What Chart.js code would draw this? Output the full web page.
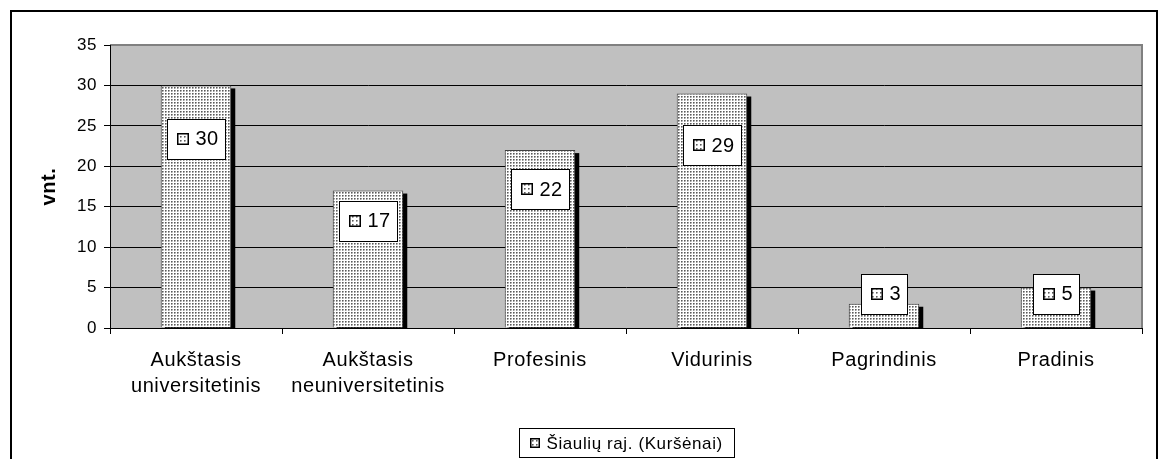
<!DOCTYPE html>
<html><head><meta charset="utf-8">
<script src="https://cdn.jsdelivr.net/npm/chart.js@4.4.0/dist/chart.umd.min.js"></script>
<style>html,body{margin:0;padding:0;background:#fff}#wrap{width:1165px;height:459px}</style>
</head><body><div id="wrap"><canvas id="c" width="1165" height="459"></canvas></div>
<script>
const categories = [['Aukštasis','universitetinis'],['Aukštasis','neuniversitetinis'],['Profesinis'],['Vidurinis'],['Pagrindinis'],['Pradinis']];
const values = [30,17,22,29,3,5];
const seriesName = 'Šiaulių raj. (Kuršėnai)';
const yTicks = [0,5,10,15,20,25,30,35];
const yTitle = 'vnt.';

const FONT = '"Liberation Sans", Arial, sans-serif';
const canvas = document.getElementById('c');
const mainCtx = canvas.getContext('2d');

function makePattern(ctx, big){
  const n = big ? 4 : 3;
  const p=document.createElement('canvas'); p.width=n; p.height=n;
  const g=p.getContext('2d');
  g.fillStyle='#ffffff'; g.fillRect(0,0,n,n);
  g.fillStyle='#5a5a5a'; g.fillRect(0,0,1,1);
  g.fillStyle='#9a9a9a'; g.fillRect(1,0,1,1); g.fillRect(0,1,1,1);
  g.fillStyle='#cfcfcf'; g.fillRect(1,1,1,1);
  return ctx.createPattern(p,'repeat');
}
const dotPattern = makePattern(mainCtx, false);
const iconPattern = makePattern(mainCtx, true);

function drawIcon(ctx,x,y,s){
  ctx.fillStyle=iconPattern; ctx.fillRect(x,y,s,s);
  ctx.strokeStyle='#000'; ctx.lineWidth=1.5; ctx.strokeRect(x+0.75,y+0.75,s-1.5,s-1.5);
}

const bgPlugin = {id:'bg', beforeDraw(chart){
  const c=chart.ctx, a=chart.chartArea;
  c.letterSpacing='0.6px';
  c.save();
  c.fillStyle='#c0c0c0'; c.fillRect(a.left,a.top,a.right-a.left,a.bottom-a.top);
  c.strokeStyle='#808080'; c.lineWidth=2;
  c.beginPath(); c.moveTo(a.left,a.top); c.lineTo(a.right,a.top); c.lineTo(a.right,a.bottom); c.stroke();
  c.restore();
}};

const shadowPlugin = {id:'shadow', beforeDatasetsDraw(chart){
  const c=chart.ctx, a=chart.chartArea, meta=chart.getDatasetMeta(0);
  c.save();
  c.beginPath(); c.rect(a.left,a.top,a.right-a.left,a.bottom-a.top); c.clip();
  c.fillStyle='#000';
  meta.data.forEach(b=>{
    const w=b.width;
    c.fillRect(b.x-w/2+4, b.y+3, w, b.base-b.y);
  });
  c.restore();
}};

const labelPlugin = {id:'lbl', afterDatasetsDraw(chart){
  const c=chart.ctx, meta=chart.getDatasetMeta(0);
  c.save();
  c.font='20px '+FONT; c.letterSpacing='0.3px';
  meta.data.forEach((b,i)=>{
    const txt=String(values[i]);
    const tw=c.measureText(txt).width;
    const w=Math.round(8+11+8+tw+8), h=40;
    let cy=b.y+0.22*(b.base-b.y);
    cy=Math.min(cy,b.base-34);
    const x0=Math.round(b.x-w/2)+0.5, y0=Math.round(cy-h/2)+0.5;
    c.fillStyle='#fff'; c.fillRect(x0,y0,w,h);
    c.strokeStyle='#000'; c.lineWidth=1; c.strokeRect(x0,y0,w,h);
    drawIcon(c, Math.round(x0+9), Math.round(cy-6), 12);
    c.fillStyle='#000'; c.textBaseline='middle'; c.textAlign='left';
    c.fillText(txt, x0+28, cy+1);
  });
  c.restore();
}};

const framePlugin = {id:'frame', afterDraw(chart){
  const c=chart.ctx;
  c.save();
  c.strokeStyle='#000'; c.lineWidth=2;
  c.strokeRect(11,11,1146,520);
  // legend
  c.font='17px '+FONT; c.letterSpacing='0.6px';
  const tw=c.measureText(seriesName).width;
  const w=Math.round(10+10+7+tw+12), h=29;
  const x0=Math.round(626-w/2)+0.5, y0=428.5;
  c.fillStyle='#fff'; c.fillRect(x0,y0,w,h);
  c.lineWidth=1; c.strokeRect(x0,y0,w,h);
  drawIcon(c, Math.round(x0+10), Math.round(y0+h/2-5), 10);
  c.fillStyle='#000'; c.textBaseline='middle'; c.textAlign='left';
  c.fillText(seriesName, x0+27, y0+h/2+1);
  c.restore();
}};

new Chart(canvas, {
  type:'bar',
  data:{labels:categories, datasets:[{label:seriesName, data:values, backgroundColor:dotPattern, borderColor:'#404040', borderWidth:1, categoryPercentage:1, barPercentage:0.41}]},
  options:{
    responsive:false, animation:false, devicePixelRatio:1,
    layout:{padding:{top:45,right:23,left:0,bottom:0}},
    plugins:{legend:{display:false}, tooltip:{enabled:false}},
    scales:{
      y:{min:0,max:35,
        afterBuildTicks(s){ s.ticks = yTicks.map(v=>({value:v})); },
        afterFit(s){ s.width=110; },
        ticks:{font:{size:17,family:FONT}, color:'#000', padding:7},
        grid:{color:(ctx)=> (ctx.tick && ctx.tick.value===35) ? '#808080' : '#000', tickColor:'#000', tickLength:6, lineWidth:1},
        border:{display:true,color:'#000',width:1},
        title:{display:true,text:yTitle,font:{size:20,weight:'bold',family:FONT},color:'#000',padding:{top:37,bottom:0}}
      },
      x:{
        afterFit(s){ s.height=131; },
        ticks:{font:{size:20,family:FONT,lineHeight:1.3}, color:'#000', padding:13, maxRotation:0, autoSkip:false},
        grid:{drawOnChartArea:false, offset:true, tickLength:6, color:'#000', tickColor:'#000'},
        border:{display:true,color:'#000',width:1}
      }
    }
  },
  plugins:[bgPlugin, shadowPlugin, labelPlugin, framePlugin]
});
</script>
</body></html>
